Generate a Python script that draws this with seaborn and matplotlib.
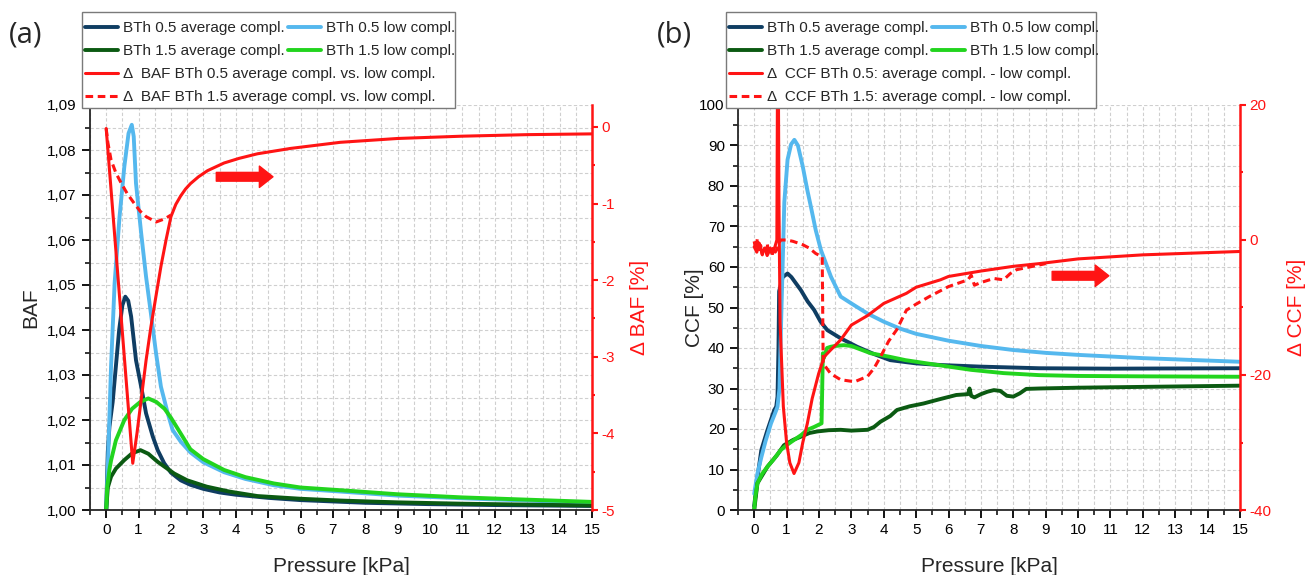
import matplotlib
matplotlib.use("Agg")
import matplotlib.pyplot as plt
import seaborn as sns
from matplotlib.patches import Rectangle
from matplotlib.ticker import FuncFormatter, MultipleLocator

# ---------------- (a) BAF vs pressure ----------------
p_a_avg05 = [0, 0.05, 0.1, 0.2, 0.3, 0.4, 0.5, 0.59, 0.68, 0.77, 0.92, 1.08, 1.23, 1.44, 1.59,
             1.79, 2.0, 2.3, 2.6, 3.0, 3.5, 4.0, 5.0, 6.0, 7.0, 8.0, 10.0, 12.0, 15.0]
baf_avg05 = [1.000, 1.013, 1.0185, 1.024, 1.032, 1.040, 1.0455, 1.0474, 1.0465, 1.043, 1.0333,
             1.0274, 1.0215, 1.0163, 1.0133, 1.0104, 1.0083, 1.0066, 1.0056, 1.0047, 1.0039,
             1.0034, 1.0027, 1.0022, 1.0019, 1.0016, 1.0013, 1.0011, 1.0009]

p_a_low05 = [0, 0.05, 0.15, 0.26, 0.41, 0.56, 0.69, 0.79, 0.85, 0.92, 1.08, 1.23, 1.38, 1.54,
             1.69, 1.9, 2.05, 2.3, 2.6, 3.0, 3.64, 4.3, 5.18, 6.0, 7.23, 9.0, 11.0, 13.0, 15.0]
baf_low05 = [1.000, 1.0096, 1.0319, 1.0504, 1.065, 1.0763, 1.0837, 1.0856, 1.083, 1.0726,
             1.0615, 1.0519, 1.0437, 1.0348, 1.0274, 1.0215, 1.0178, 1.0152, 1.0128, 1.0106,
             1.0084, 1.0069, 1.0055, 1.0047, 1.0041, 1.0032, 1.0026, 1.0021, 1.0016]

p_a_avg15 = [0, 0.05, 0.15, 0.3, 0.56, 0.8, 1.06, 1.3, 1.59, 2.1, 2.5, 3.1, 3.8, 4.67, 6.0,
             7.23, 9.0, 11.0, 13.0, 15.0]
baf_avg15 = [1.000, 1.005, 1.0074, 1.0092, 1.0111, 1.0126, 1.0133, 1.0125, 1.0107, 1.0081,
             1.0066, 1.0052, 1.0041, 1.0031, 1.0025, 1.0021, 1.0017, 1.0014, 1.0012, 1.0010]

p_a_low15 = [0, 0.03, 0.1, 0.15, 0.3, 0.56, 0.8, 1.05, 1.3, 1.55, 1.8, 2.0, 2.3, 2.6, 3.0,
             3.64, 4.3, 5.18, 6.0, 7.23, 9.0, 11.0, 13.0, 15.0]
baf_low15 = [1.000, 1.005, 1.009, 1.011, 1.0155, 1.020, 1.0225, 1.024, 1.0248, 1.024, 1.0225,
             1.0205, 1.017, 1.0135, 1.0113, 1.0089, 1.0073, 1.0059, 1.005, 1.0044, 1.0035,
             1.0028, 1.0023, 1.0018]

p_a_d05 = [0, 0.82, 0.95, 1.08, 1.23, 1.38, 1.54, 1.69, 1.85, 2.0, 2.15, 2.3, 2.45, 2.6, 2.85,
           3.13, 3.64, 4.1, 4.67, 5.69, 7.23, 9.0, 11.0, 13.0, 15.0]
dbaf_05 = [-0.02, -4.39, -4.0, -3.56, -3.05, -2.61, -2.2, -1.82, -1.47, -1.17, -1.01, -0.9,
           -0.81, -0.74, -0.65, -0.57, -0.47, -0.41, -0.35, -0.28, -0.2, -0.15, -0.12, -0.1,
           -0.09]

p_a_d15 = [0, 0.05, 0.15, 0.3, 0.46, 0.65, 0.87, 1.05, 1.23, 1.54, 1.8, 2.0]
dbaf_15 = [-0.02, -0.2, -0.43, -0.6, -0.73, -0.87, -1.0, -1.1, -1.17, -1.24, -1.2, -1.15]

# ---------------- (b) CCF vs pressure ----------------
p_b_avg05 = [0, 0.1, 0.22, 0.4, 0.62, 0.68, 0.72, 0.75, 0.77, 0.88, 1.03, 1.15, 1.44, 1.65,
             1.85, 2.05, 2.26, 2.67, 3.18, 3.7, 4.2, 5.0, 5.75, 7.0, 8.8, 11.0, 15.0]
ccf_avg05 = [1, 8, 14.8, 19.5, 24.7, 25.5, 28, 40, 54, 57.5, 58.4, 57.5, 54.3, 51.5, 49.4, 46.5,
             44.4, 42.4, 40.3, 38.5, 37.0, 36.2, 35.8, 35.4, 35.0, 34.9, 35.0]

p_b_low05 = [0, 0.1, 0.22, 0.35, 0.52, 0.65, 0.72, 0.78, 0.83, 0.93, 1.03, 1.14, 1.24, 1.35,
             1.5, 1.64, 1.75, 1.9, 2.06, 2.37, 2.67, 3.0, 3.5, 4.0, 4.5, 5.0, 6.0, 7.0, 8.0,
             9.0, 10.0, 12.0, 15.0]
ccf_low05 = [4, 9, 13, 17, 21.4, 24, 25.5, 30, 46, 76, 86.5, 90.3, 91.4, 90, 84.8, 79, 74.9,
             69.1, 64.2, 57.6, 52.7, 51, 48.5, 46.5, 44.8, 43.5, 41.8, 40.5, 39.5, 38.8, 38.3,
             37.5, 36.6]

p_b_avg15 = [0, 0.1, 0.41, 0.7, 0.92, 1.2, 1.44, 1.7, 1.95, 2.3, 2.67, 3.0, 3.5, 3.7, 3.9, 4.2,
             4.41, 4.8, 5.23, 5.7, 6.24, 6.6, 6.65, 6.7, 6.8, 7.0, 7.2, 7.4, 7.6, 7.8, 8.0, 8.2,
             8.4, 8.8, 10.0, 12.0, 15.0]
ccf_avg15 = [0, 6.6, 10.7, 13.5, 16, 17.3, 18.1, 19, 19.4, 19.7, 19.8, 19.6, 19.8, 20.5, 21.8,
             23.2, 24.7, 25.6, 26.3, 27.3, 28.4, 28.6, 30, 28.2, 27.8, 28.6, 29.2, 29.6, 29.4,
             28.2, 28.0, 28.8, 29.9, 30.0, 30.2, 30.4, 30.7]

p_b_low15 = [0, 0.03, 0.1, 0.25, 0.41, 0.6, 0.82, 1.0, 1.23, 1.45, 1.64, 1.85, 2.08, 2.12, 2.15,
             2.25, 2.36, 2.5, 2.77, 3.0, 3.6, 4.2, 4.67, 5.5, 6.7, 7.7, 8.8, 10.0, 12.0, 15.0]
ccf_low15 = [0, 3, 6.6, 9, 10.7, 12.5, 14.8, 16, 17.3, 18.5, 19.8, 20.5, 21.4, 38.7, 37.5, 40,
             40.3, 40.5, 40.7, 40.5, 38.7, 37.8, 37.0, 36.0, 34.6, 33.8, 33.3, 33.1, 33.0, 32.9]

p_b_d05 = [0, 0.08, 0.16, 0.24, 0.32, 0.4, 0.48, 0.56, 0.64, 0.7, 0.72, 0.745, 0.765, 0.8, 0.9,
           1.0, 1.1, 1.23, 1.38, 1.5, 1.64, 1.79, 1.99, 2.16, 2.36, 2.67, 3.0, 3.5, 4.0, 4.7,
           5.0, 5.75, 6.0, 7.0, 8.0, 8.8, 10.0, 12.0, 15.0]
dccf_05 = [-1, -1.8, -0.5, -2, -1.2, -2.3, -1.5, -2, -1.0, 0, 25, 25, 5, -12.3, -24.7, -30,
           -33, -34.6, -33, -30, -27.2, -23.5, -19.8, -17.3, -16.3, -14.8, -12.6, -11.2, -9.4,
           -7.9, -7.0, -5.9, -5.4, -4.6, -3.9, -3.5, -2.8, -2.2, -1.7]

p_b_d15 = [0, 0.05, 0.1, 0.15, 0.2, 0.25, 0.3, 0.35, 0.4, 0.45, 0.5, 0.55, 0.6, 0.65, 0.7,
           0.75, 0.82, 1.0, 1.2, 1.5, 1.7, 1.9, 2.1, 2.13, 2.36, 2.67, 3.1, 3.5, 3.7, 3.9,
           4.15, 4.4, 4.7, 5.0, 5.4, 6.0, 6.6, 6.7, 6.8, 7.0, 7.4, 7.7, 7.9, 8.1, 8.5, 9.0]
dccf_15 = [-0.2, -1.5, 0.3, -1.8, -0.8, -2.2, -1.0, -1.6, -0.5, -2.0, -1.2, -2.4, -1.0, -1.8,
           -1.4, -0.6, 0.0, 0.0, -0.2, -0.7, -1.2, -2.0, -2.5, -18.3, -19.8, -20.7, -21, -20.2,
           -19, -17.3, -15, -13.3, -10.4, -9.5, -8.4, -6.9, -5.9, -5.2, -6.7, -6.3, -5.7, -5.9,
           -5.0, -4.4, -4.0, -3.5]

# colours
DARK_BLUE = "#0f3d62"
LIGHT_BLUE = "#55b8ee"
DARK_GREEN = "#0b5a12"
GREEN = "#22d41e"
RED = "#ff1414"

W, H = 1314, 575

sns.set_style("ticks")
plt.rcParams["font.family"] = ["Liberation Sans", "DejaVu Sans"]

fig = plt.figure(figsize=(W / 100, H / 100), dpi=100)


def fx(px):
    return px / W


def fy(py):
    return 1 - py / H


def draw(ax, x, y, color, lw=2.8, ls="-"):
    sns.lineplot(x=x, y=y, ax=ax, color=color, lw=lw, linestyle=ls,
                 estimator=None, sort=False, legend=False)
    return ax.lines[-1]


def style(ax, ax2, ylim, ymaj, ymin, yfmt, ylim2, y2maj, y2min, ylabel, ylabel2,
          lab_x, lab2_x):
    ax.set_xlim(-0.5, 15)
    ax.set_ylim(*ylim)
    ax2.set_ylim(*ylim2)
    ax.xaxis.set_major_locator(MultipleLocator(1))
    ax.xaxis.set_minor_locator(MultipleLocator(0.5))
    ax.yaxis.set_major_locator(MultipleLocator(ymaj))
    ax.yaxis.set_minor_locator(MultipleLocator(ymin))
    ax.yaxis.set_major_formatter(FuncFormatter(yfmt))
    ax2.yaxis.set_major_locator(MultipleLocator(y2maj))
    ax2.yaxis.set_minor_locator(MultipleLocator(y2min))
    ax2.yaxis.set_major_formatter(FuncFormatter(lambda v, _: f"{v:.0f}"))
    ax.grid(which="both", color="#cfcfcf", linestyle=(0, (3, 2)), linewidth=0.8)
    ax.set_axisbelow(True)
    for s in ["top", "right"]:
        ax.spines[s].set_visible(False)
    for s in ["top", "left", "bottom"]:
        ax2.spines[s].set_visible(False)
    ax.spines["left"].set_linewidth(1.3)
    ax.spines["bottom"].set_linewidth(1.3)
    ax2.spines["right"].set_color(RED)
    ax2.spines["right"].set_linewidth(1.8)
    ax.tick_params(which="major", direction="out", length=6, width=1.3, labelsize=11,
                   colors="black")
    ax.tick_params(which="minor", direction="out", length=3.5, width=1.3)
    ax2.tick_params(which="major", direction="out", length=4, width=1.5, labelsize=11,
                    colors=RED, pad=3)
    ax2.tick_params(which="minor", direction="out", length=2.5, width=1.5, colors=RED)
    ax.set_xlabel("Pressure [kPa]", fontsize=15, labelpad=14)
    ax.set_ylabel(ylabel, fontsize=15)
    ax2.set_ylabel(ylabel2, fontsize=15, color=RED)
    ax.yaxis.set_label_coords(lab_x, 0.5)
    ax2.yaxis.set_label_coords(lab2_x, 0.5)


def legend_block(handles, labels, x0, y0, width):
    fig.add_artist(Rectangle((fx(x0), fy(y0 + 96)), width / W, 96 / H,
                             transform=fig.transFigure, facecolor="white",
                             edgecolor="#7a7a7a", linewidth=1.0, zorder=5))
    kw = dict(loc="upper left", frameon=False, fontsize=11, borderaxespad=0, borderpad=0,
              handlelength=2.15, handletextpad=0.35, labelspacing=0.62, columnspacing=0.2)
    lg1 = fig.legend(handles[:4], labels[:4], ncol=2,
                     bbox_to_anchor=(fx(x0 + 3), fy(y0 + 9)), **kw)
    lg2 = fig.legend(handles[4:], labels[4:], ncol=1,
                     bbox_to_anchor=(fx(x0 + 3), fy(y0 + 55)), **kw)
    lg1.set_zorder(6)
    lg2.set_zorder(6)


def comma2(v, _):
    return f"{v:.2f}".replace(".", ",")


ARROW = dict(arrowstyle="simple,head_length=0.7,head_width=1.1,tail_width=0.45",
             color=RED, mutation_scale=14, shrinkA=0, shrinkB=0)

# ---------------- panel (a) ----------------
axa = fig.add_axes([fx(90), fy(510), 502 / W, 405 / H])
axa2 = axa.twinx()
h = [draw(axa, p_a_avg05, baf_avg05, DARK_BLUE),
     draw(axa, p_a_low05, baf_low05, LIGHT_BLUE),
     draw(axa, p_a_avg15, baf_avg15, DARK_GREEN),
     draw(axa, p_a_low15, baf_low15, GREEN),
     draw(axa2, p_a_d05, dbaf_05, RED, lw=2.2),
     draw(axa2, p_a_d15, dbaf_15, RED, lw=2.2, ls=(0, (2.5, 1.5)))]
style(axa, axa2, (1.0, 1.09), 0.01, 0.005, comma2, (-5, 0.287), 1, 0.5,
      "BAF", "Δ BAF [%]", -0.1, 1.075)
axa2.annotate("", xy=(5.15, -0.65), xytext=(3.4, -0.65), arrowprops=ARROW)
labels_a = ["BTh 0.5 average compl.", "BTh 1.5 average compl.",
            "BTh 0.5 low compl.", "BTh 1.5 low compl.",
            "Δ  BAF BTh 0.5 average compl. vs. low compl.",
            "Δ  BAF BTh 1.5 average compl. vs. low compl."]
legend_block([h[0], h[2], h[1], h[3], h[4], h[5]], labels_a, 82, 12, 373)
fig.text(fx(9), fy(35), "(a)", fontsize=21, family=["Open Sans", "DejaVu Sans"],
         va="center", ha="left")

# ---------------- panel (b) ----------------
axb = fig.add_axes([fx(738), fy(510), 502 / W, 405 / H])
axb2 = axb.twinx()
g = [draw(axb, p_b_avg05, ccf_avg05, DARK_BLUE),
     draw(axb, p_b_low05, ccf_low05, LIGHT_BLUE),
     draw(axb, p_b_avg15, ccf_avg15, DARK_GREEN),
     draw(axb, p_b_low15, ccf_low15, GREEN),
     draw(axb2, p_b_d05, dccf_05, RED, lw=2.2),
     draw(axb2, p_b_d15, dccf_15, RED, lw=2.2, ls=(0, (2.5, 1.5)))]
style(axb, axb2, (0, 100), 10, 5, lambda v, _: f"{v:.0f}", (-40, 20), 20, 10,
      "CCF [%]", "Δ CCF [%]", -0.068, 1.093)
axb2.annotate("", xy=(10.95, -5.3), xytext=(9.2, -5.3), arrowprops=ARROW)
labels_b = ["BTh 0.5 average compl.", "BTh 1.5 average compl.",
            "BTh 0.5 low compl.", "BTh 1.5 low compl.",
            "Δ  CCF BTh 0.5: average compl. - low compl.",
            "Δ  CCF BTh 1.5: average compl. - low compl."]
legend_block([g[0], g[2], g[1], g[3], g[4], g[5]], labels_b, 726, 12, 370)
fig.text(fx(657), fy(35), "(b)", fontsize=21, family=["Open Sans", "DejaVu Sans"],
         va="center", ha="left")

fig.savefig("out.png", dpi=100)
